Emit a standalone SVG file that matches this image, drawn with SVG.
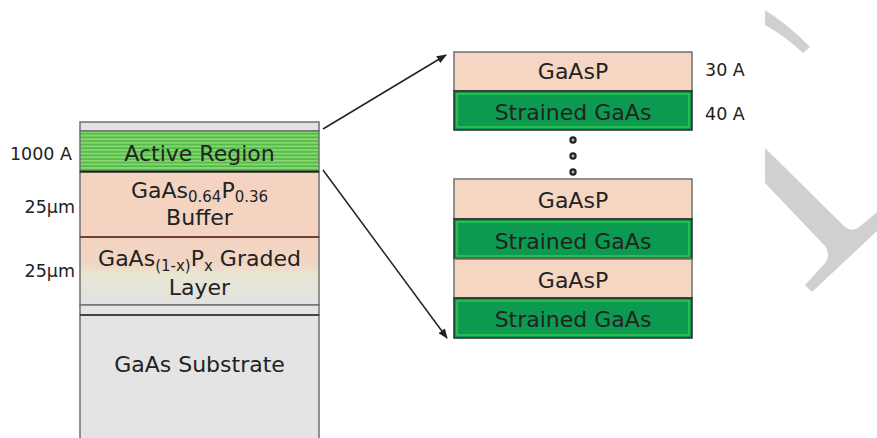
<svg xmlns="http://www.w3.org/2000/svg" width="877" height="438" viewBox="0 0 877 438">
<defs>
<pattern id="stripes" x="0" y="131" width="6" height="3.6" patternUnits="userSpaceOnUse">
<rect width="6" height="3.6" fill="#84d86c"/>
<rect y="2.2" width="6" height="1.2" fill="#3fae3f"/>
</pattern>
<linearGradient id="graded" x1="0" y1="0" x2="0" y2="1">
<stop offset="0" stop-color="#f3d3c2"/>
<stop offset="0.4" stop-color="#f1d6c3"/>
<stop offset="0.55" stop-color="#e9e6d4"/>
<stop offset="0.8" stop-color="#e4e4dc"/>
<stop offset="1" stop-color="#e2e2e2"/>
</linearGradient>
<marker id="arr" markerWidth="10" markerHeight="8" refX="9" refY="4" orient="auto" markerUnits="userSpaceOnUse">
<path d="M0,0 L10,4 L0,8 Z" fill="#222"/>
</marker>
<style>
text{font-family:"DejaVu Sans","Liberation Sans",sans-serif;fill:#222;}
.big{font-size:22px;text-anchor:middle;}
.lab{font-size:17.5px;}
.sub{font-size:15px;}
.peach{fill:#f5d6c2;stroke:#707070;stroke-width:1.5;}
.green{fill:#0b9a50;stroke:#2a2a2a;stroke-width:1.5;}
.inner{fill:none;stroke:#3fd24a;stroke-width:1.2;}
.dot{fill:#bbb;stroke:#222;stroke-width:2.2;}
.wm{fill:#d0d0d0;}
.conn{stroke:#222;stroke-width:1.5;fill:none;marker-end:url(#arr);}
</style>
</defs>
<rect width="877" height="438" fill="#ffffff"/>

<g id="watermark">
<path class="wm" d="M765,10 Q790,26 810,47 L803,53 Q785,36 765,25 Z"/>
<path class="wm" d="M765,148 L845,227 Q851,232 858,228 L877,212 L877,231 L812,292 L805,285 L826,262 Q831,254 825,246 L765,183 Z"/>
</g>

<g id="left-stack">
<g id="top-cap"><rect x="80" y="122" width="239" height="9" fill="#e3e3e3" stroke="#707070" stroke-width="1.5"/></g>
<g id="active-region">
<rect x="80" y="131" width="239" height="41" fill="url(#stripes)" stroke="#707070" stroke-width="1.5"/>
<text class="big" x="199.5" y="161">Active Region</text>
</g>
<g id="buffer">
<rect x="80" y="172" width="239" height="65" fill="#f4d4c1" stroke="#707070" stroke-width="1.5"/>
<text class="big" x="199.5" y="198">GaAs<tspan class="sub" dy="4">0.64</tspan><tspan dy="-4">P</tspan><tspan class="sub" dy="4">0.36</tspan></text>
<text class="big" x="199.5" y="225">Buffer</text>
</g>
<g id="graded">
<rect x="80" y="237" width="239" height="68" fill="url(#graded)" stroke="#707070" stroke-width="1.5"/>
<text class="big" x="199.5" y="266">GaAs<tspan class="sub" dy="5">(1-x)</tspan><tspan dy="-5">P</tspan><tspan class="sub" dy="5">x</tspan><tspan dy="-5"> Graded</tspan></text>
<text class="big" x="199.5" y="295">Layer</text>
</g>
<g id="thin-layer"><rect x="80" y="305" width="239" height="10" fill="#e4e4e4" stroke="#707070" stroke-width="1.5"/></g>
<g id="substrate">
<rect x="80" y="315" width="239" height="130" fill="#e4e4e4" stroke="#707070" stroke-width="1.5"/>
<text class="big" x="199.5" y="372">GaAs Substrate</text>
</g>
<line x1="80" y1="171.5" x2="319" y2="171.5" stroke="#222" stroke-width="2"/>
<line x1="80" y1="237" x2="319" y2="237" stroke="#6e4038" stroke-width="2"/>
<line x1="80" y1="315" x2="319" y2="315" stroke="#444" stroke-width="2"/>
<text class="lab" x="72" y="160" text-anchor="end">1000 A</text>
<text class="lab" x="75" y="213" text-anchor="end">25μm</text>
<text class="lab" x="75" y="277" text-anchor="end">25μm</text>
</g>

<g id="top-stack">
<g id="t-gaasp">
<rect class="peach" x="454" y="52" width="238" height="39"/>
<text class="big" x="573" y="79">GaAsP</text>
</g>
<g id="t-strained">
<rect class="green" x="454" y="91" width="238" height="39"/>
<rect class="inner" x="457" y="94" width="232" height="33"/>
<text class="big" x="573" y="120">Strained GaAs</text>
</g>
<text class="lab" x="705" y="76">30 A</text>
<text class="lab" x="705" y="120">40 A</text>
</g>

<g id="ellipsis">
<circle class="dot" cx="573" cy="140" r="2.6"/>
<circle class="dot" cx="573" cy="156" r="2.6"/>
<circle class="dot" cx="573" cy="172" r="2.6"/>
</g>

<g id="bottom-stack">
<g id="b-gaasp1">
<rect class="peach" x="454" y="179" width="238" height="40"/>
<text class="big" x="573" y="208">GaAsP</text>
</g>
<g id="b-strained1">
<rect class="green" x="454" y="219" width="238" height="40"/>
<rect class="inner" x="457" y="222" width="232" height="34"/>
<text class="big" x="573" y="249">Strained GaAs</text>
</g>
<g id="b-gaasp2">
<rect class="peach" x="454" y="259" width="238" height="39"/>
<text class="big" x="573" y="288">GaAsP</text>
</g>
<g id="b-strained2">
<rect class="green" x="454" y="298" width="238" height="40"/>
<rect class="inner" x="457" y="301" width="232" height="34"/>
<text class="big" x="573" y="327">Strained GaAs</text>
</g>
</g>

<g id="connectors">
<line class="conn" x1="323" y1="129" x2="446" y2="55"/>
<line class="conn" x1="323" y1="170" x2="447" y2="338"/>
</g>
</svg>
